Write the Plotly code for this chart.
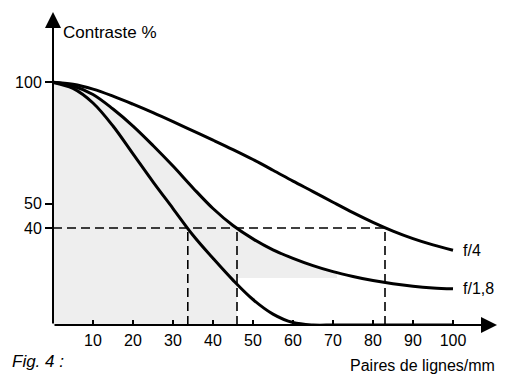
import numpy as np
import plotly.graph_objects as go

# Data
freq = [0, 5, 10, 15, 20, 25, 30, 35, 40, 45, 50, 55, 60, 65, 70, 75, 80, 85, 90, 95, 100]
f4 = [100, 99.2, 97.2, 94.3, 91, 87.5, 83.8, 80, 76.2, 72.3, 68.2, 63.8, 59.3, 55, 50.6, 46.3, 42.3, 38.7, 35.6, 33, 30.8]
f18 = [100, 98.5, 95, 89, 82, 74, 65.5, 56.5, 48, 41, 35.5, 31, 27.5, 24.5, 22, 20, 18.3, 17, 16, 15.3, 14.9]
f_low = [100, 97.5, 91.5, 82, 70.5, 59, 48, 37, 27.5, 18.5, 10.5, 4.5, 1, 0, 0, 0, 0, 0, 0, 0, 0]

x_ticks = [10, 20, 30, 40, 50, 60, 70, 80, 90, 100]
y_ticks = [40, 50, 100]
threshold = 40
cutoffs = [33.7, 46, 83]
series_labels = ["f/4", "f/1,8"]

shade_x_end = 71
shade_floor = 19.4

x_max, y_max = 111, 129

fig = go.Figure()

# light gray shading under the f/1,8 curve
xs = np.linspace(0, shade_x_end, 80)
ys = np.interp(xs, freq, f18)
px_ = list(xs) + [shade_x_end, cutoffs[1], cutoffs[1], 0]
py_ = list(ys) + [shade_floor, shade_floor, 0, 0]
fig.add_trace(go.Scatter(x=px_, y=py_, fill="toself", fillcolor="#eeeeee",
                         line=dict(width=0), mode="lines", hoverinfo="skip", showlegend=False))

# dashed guides
fig.add_trace(go.Scatter(x=[0, cutoffs[2]], y=[threshold, threshold], mode="lines",
                         line=dict(color="black", width=1.6, dash="9px,5px"), showlegend=False))
for c in cutoffs:
    fig.add_trace(go.Scatter(x=[c, c], y=[0, threshold], mode="lines",
                             line=dict(color="black", width=1.6, dash="9px,5px"), showlegend=False))

for ys_ in (f4, f18, f_low):
    fig.add_trace(go.Scatter(x=freq, y=ys_, mode="lines",
                             line=dict(color="black", width=3, shape="spline", smoothing=1.0),
                             showlegend=False))

# axes arrows
fig.add_annotation(x=x_max, y=0, ax=0, ay=0, xref="x", yref="y", axref="x", ayref="y",
                   showarrow=True, arrowhead=2, arrowsize=1.6, arrowwidth=2, arrowcolor="black", text="")
fig.add_annotation(x=0, y=y_max, ax=0, ay=0, xref="x", yref="y", axref="x", ayref="y",
                   showarrow=True, arrowhead=2, arrowsize=1.6, arrowwidth=2, arrowcolor="black", text="")

# curve labels
fig.add_annotation(x=102, y=f4[-1], text=series_labels[0], showarrow=False, xanchor="left",
                   font=dict(size=16, color="black"))
fig.add_annotation(x=102, y=f18[-1], text=series_labels[1], showarrow=False, xanchor="left",
                   font=dict(size=16, color="black"))

fig.add_annotation(x=2.0, y=120.7, xref="x", yref="y", text="Contraste %", showarrow=False,
                   xanchor="left", font=dict(size=17, color="black"))
fig.add_annotation(x=1.0, y=-0.128, xref="paper", yref="paper", text="Paires de lignes/mm",
                   showarrow=False, xanchor="right", yanchor="middle", font=dict(size=16, color="black"))
fig.add_annotation(x=-43 / 444, y=-0.118, xref="paper", yref="paper", text="<i>Fig. 4 :</i>",
                   showarrow=False, xanchor="left", yanchor="middle", font=dict(size=17, color="black"))

fig.update_layout(
    width=517, height=374,
    margin=dict(l=53, r=20, t=12, b=49),
    paper_bgcolor="white", plot_bgcolor="white",
    font=dict(family="Liberation Sans, Arial, sans-serif", size=16, color="black"),
    xaxis=dict(range=[0, x_max], tickvals=x_ticks, ticks="inside", ticklen=5, tickwidth=1.5,
               tickcolor="black", showgrid=False, zeroline=False, showline=False,
               ticklabelstandoff=4),
    yaxis=dict(range=[0, y_max], tickvals=y_ticks, ticks="outside", ticklen=7, tickwidth=1.5,
               tickcolor="black", showgrid=False, zeroline=False, showline=False),
)

fig.write_html("out.html", config={"displayModeBar": False},
               post_script="document.body.style.margin='0';")
